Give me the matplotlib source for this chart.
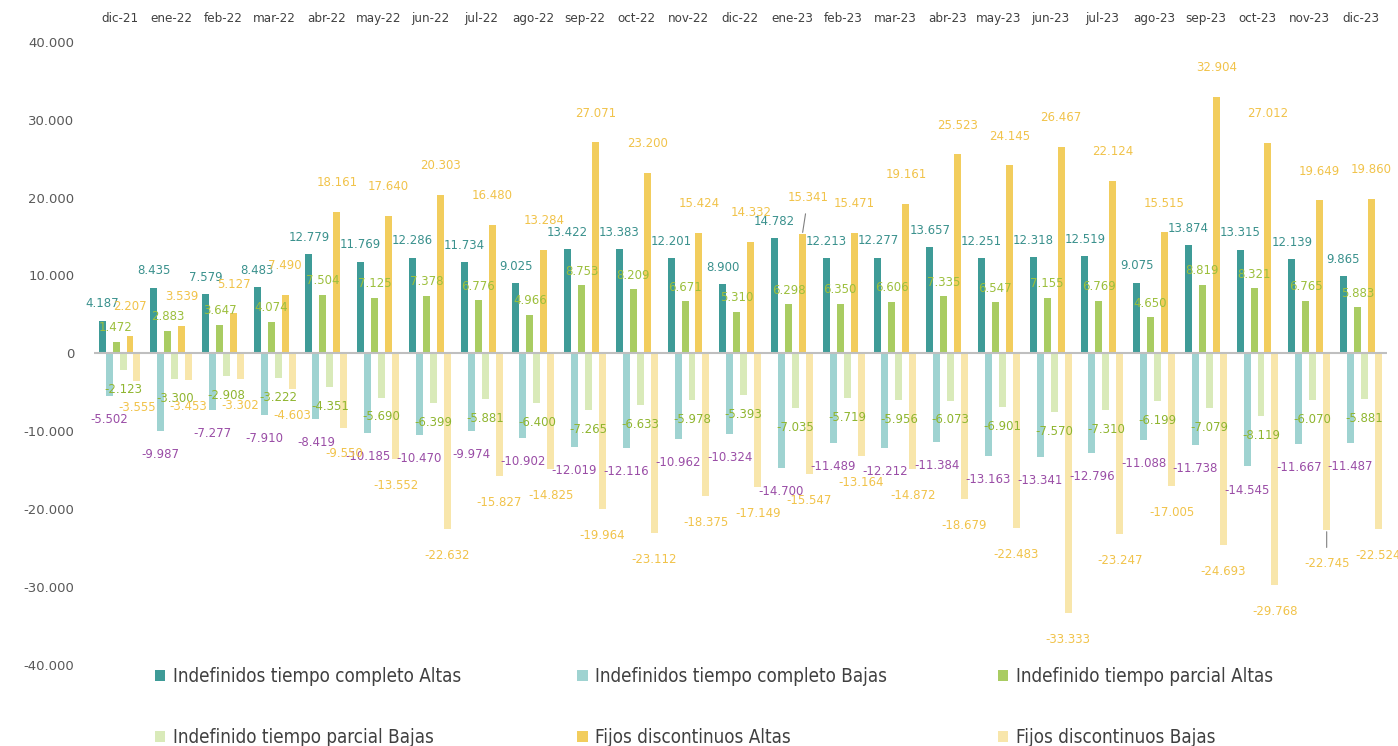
import matplotlib.pyplot as plt
import numpy as np
from matplotlib import rcParams

rcParams['font.family'] = ['DejaVu Sans']

months = ['dic-21', 'ene-22', 'feb-22', 'mar-22', 'abr-22', 'may-22', 'jun-22', 'jul-22',
          'ago-22', 'sep-22', 'oct-22', 'nov-22', 'dic-22', 'ene-23', 'feb-23', 'mar-23',
          'abr-23', 'may-23', 'jun-23', 'jul-23', 'ago-23', 'sep-23', 'oct-23', 'nov-23', 'dic-23']

itc_altas = [4187, 8435, 7579, 8483, 12779, 11769, 12286, 11734, 9025, 13422, 13383, 12201, 8900,
             14782, 12213, 12277, 13657, 12251, 12318, 12519, 9075, 13874, 13315, 12139, 9865]
itc_bajas = [-5502, -9987, -7277, -7910, -8419, -10185, -10470, -9974, -10902, -12019, -12116, -10962,
             -10324, -14700, -11489, -12212, -11384, -13163, -13341, -12796, -11088, -11738, -14545,
             -11667, -11487]
itp_altas = [1472, 2883, 3647, 4074, 7504, 7125, 7378, 6776, 4966, 8753, 8209, 6671, 5310,
             6298, 6350, 6606, 7335, 6547, 7155, 6769, 4650, 8819, 8321, 6765, 5883]
itp_bajas = [-2123, -3300, -2908, -3222, -4351, -5690, -6399, -5881, -6400, -7265, -6633, -5978,
             -5393, -7035, -5719, -5956, -6073, -6901, -7570, -7310, -6199, -7079, -8119, -6070, -5881]
fd_altas = [2207, 3539, 5127, 7490, 18161, 17640, 20303, 16480, 13284, 27071, 23200, 15424, 14332,
            15341, 15471, 19161, 25523, 24145, 26467, 22124, 15515, 32904, 27012, 19649, 19860]
fd_bajas = [-3555, -3453, -3302, -4603, -9550, -13552, -22632, -15827, -14825, -19964, -23112, -18375,
            -17149, -15547, -13164, -14872, -18679, -22483, -33333, -23247, -17005, -24693, -29768,
            -22745, -22524]

names = ['Indefinidos tiempo completo Altas', 'Indefinidos tiempo completo Bajas',
         'Indefinido tiempo parcial Altas', 'Indefinido tiempo parcial Bajas',
         'Fijos discontinuos Altas', 'Fijos discontinuos Bajas']
colors = ['#3e9b97', '#9fd3d1', '#a9cc62', '#d9eab9', '#f2cd5d', '#f8e6ab']
label_colors = ['#3a918d', '#9a4da6', '#9cbf3c', '#8fb52f', '#f1c34a', '#f1c34a']
label_offsets = [12, -17, 10, -14, 21, -19]
# labels moved by hand in the original, with a leader line
moved = {(4, 13): (4, 26), (5, 23): (0, -24)}


def fmt(v):
    return f'{v:,.0f}'.replace(',', '.')


fig = plt.figure(figsize=(13.98, 7.46), dpi=100)
ax = fig.add_axes([0.067, 0.109, 0.925, 0.835])

x = np.arange(len(months))
width = 0.135
data = [itc_altas, itc_bajas, itp_altas, itp_bajas, fd_altas, fd_bajas]
handles = []
for i, vals in enumerate(data):
    pos = x + (i - 2.5) * width
    b = ax.bar(pos, vals, width, color=colors[i], label=names[i], zorder=2)
    handles.append(b)
    for j, (p, v) in enumerate(zip(pos, vals)):
        if (i, j) in moved:
            ax.annotate(fmt(v), (p, v), xytext=moved[(i, j)], textcoords='offset points',
                        ha='center', va='center', fontsize=8.5, color=label_colors[i], zorder=3,
                        arrowprops=dict(arrowstyle='-', color='#808080', lw=0.8,
                                        shrinkA=5, shrinkB=1))
        else:
            ax.annotate(fmt(v), (p, v), xytext=(0, label_offsets[i]), textcoords='offset points',
                        ha='center', va='center', fontsize=8.5, color=label_colors[i], zorder=3)

ax.axhline(0, color='#bfbfbf', linewidth=1.5, zorder=2)
ax.set_xlim(-0.5, 24.5)
ax.set_ylim(-40000, 40000)
ax.set_xticks(x)
ax.set_xticklabels(months, fontsize=9.5, color='#404040', fontstretch='condensed')
ax.xaxis.tick_top()
yt = np.arange(-40000, 40001, 10000)
ax.set_yticks(yt)
ax.set_yticklabels([fmt(v) for v in yt], fontsize=9.5, color='#595959')
ax.tick_params(axis='x', length=0, pad=12)
ax.tick_params(axis='y', length=0, pad=14)
for s in ax.spines.values():
    s.set_visible(False)

# one legend per column, rows read left to right
col_x = [0.111, 0.413, 0.714]
for c in range(3):
    leg = fig.legend([handles[c], handles[c + 3]], [names[c], names[c + 3]], frameon=False,
                     loc='upper left', bbox_to_anchor=(col_x[c], 0.106),
                     prop={'size': 13.5, 'stretch': 'condensed'}, labelcolor='#404040',
                     handlelength=0.55, handleheight=0.55, handletextpad=0.4,
                     labelspacing=2.25, borderaxespad=0, borderpad=0)

plt.savefig('out.png', dpi=100)
